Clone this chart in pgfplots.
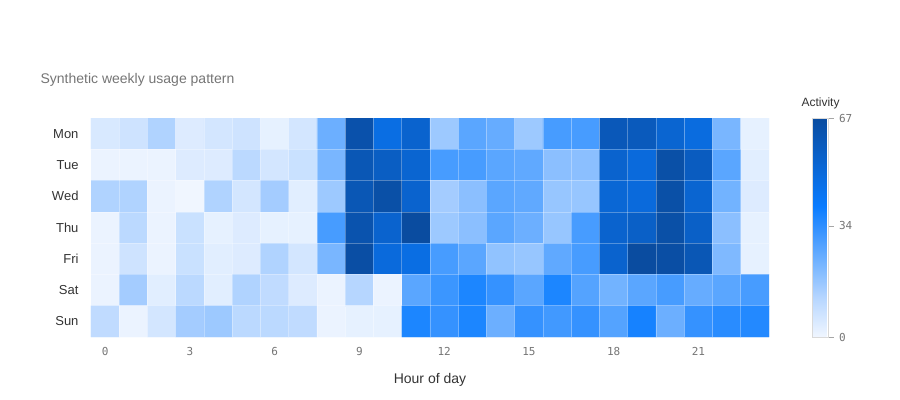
\documentclass[border=0pt]{standalone}
\usepackage{fontspec}
\setmainfont{Liberation Sans}
\newfontfamily\monofont{DejaVu Sans Mono}
\usepackage{pgfplots}
\pgfplotsset{compat=1.18}
\definecolor{txt}{HTML}{333333}
\definecolor{muted}{HTML}{757575}

\begin{document}
\begin{tikzpicture}
\begin{axis}[
  at={(0,0)}, anchor=south west,
  scale only axis, width=678bp, height=219bp,
  xmin=-0.5, xmax=23.5, ymin=-0.5, ymax=6.5,
  y dir=reverse,
  axis line style={draw=none},
  major tick length=0pt, minor tick length=0pt,
  /pgf/number format/assume math mode=true,
  xtick={0,3,...,21},
  xticklabel style={font=\monofont\fontsize{11bp}{13bp}\selectfont, text=muted, yshift=-7bp},
  ytick={0,...,6},
  yticklabels={Mon,Tue,Wed,Thu,Fri,Sat,Sun},
  yticklabel style={font=\fontsize{13bp}{15bp}\selectfont, text=txt, xshift=-9bp},
  minor xtick={0.5,1.5,...,22.5},
  minor ytick={0.5,1.5,...,5.5},
  xminorgrids, yminorgrids,
  minor grid style={draw=white, opacity=0.3, line width=0.6bp},
  axis on top,
  xlabel={Hour of day},
  xlabel style={at={(axis description cs:0.5,-0.196)}, anchor=center,
    font=\fontsize{14bp}{16bp}\selectfont, text=txt},
  title={Synthetic weekly usage pattern},
  title style={at={(axis description cs:-0.0796,1.148)}, anchor=west,
    font=\fontsize{14bp}{16bp}\selectfont, text=muted},
  colormap={activity}{rgb255(0cm)=(240,246,255); rgb255(12cm)=(182,214,255); rgb255(40cm)=(10,124,255); rgb255(67cm)=(10,76,160)},
  point meta min=0, point meta max=67,
  colorbar,
  colorbar style={
    at={(parent axis.north east)}, anchor=north west, xshift=35bp,
    scale only axis, width=16bp, height=219bp,
    axis line style={draw=black!15},
    ytick={0,34,67},
    ytick pos=right, yticklabel pos=right,
    /pgf/number format/assume math mode=true,
    major tick length=5bp, tick align=outside,
    tick style={draw=black!35, line width=0.6bp},
    yticklabel style={font=\monofont\fontsize{11bp}{13bp}\selectfont, text=muted, xshift=2bp},
    title={Activity},
    title style={at={(0.5,1)}, anchor=center, yshift=9bp,
      font=\fontsize{12bp}{14bp}\selectfont, text=txt},
  },
]
\addplot[matrix plot, mesh/cols=24, point meta=explicit] table[meta=c] {
x y c
0 0 5
1 0 7
2 0 13
3 0 4
4 0 6
5 0 7
6 0 2
7 0 6
8 0 24
9 0 64
10 0 48
11 0 54
12 0 16
13 0 27
14 0 25
15 0 16
16 0 30
17 0 30
18 0 60
19 0 59
20 0 53
21 0 49
22 0 22
23 0 2
0 1 1
1 1 1
2 1 1
3 1 4
4 1 4
5 1 11
6 1 6
7 1 8
8 1 22
9 1 61
10 1 57
11 1 53
12 1 30
13 1 30
14 1 27
15 1 26
16 1 19
17 1 19
18 1 54
19 1 50
20 1 65
21 1 58
22 1 27
23 1 3
0 2 13
1 2 13
2 2 1
3 2 0
4 2 13
5 2 6
6 2 15
7 2 3
8 2 16
9 2 61
10 2 65
11 2 54
12 2 15
13 2 19
14 2 27
15 2 26
16 2 17
17 2 17
18 2 52
19 2 50
20 2 65
21 2 53
22 2 23
23 2 4
0 3 1
1 3 11
2 3 1
3 3 8
4 3 2
5 3 4
6 3 2
7 3 2
8 3 30
9 3 63
10 3 54
11 3 67
12 3 16
13 3 19
14 3 27
15 3 24
16 3 17
17 3 30
18 3 54
19 3 56
20 3 65
21 3 56
22 3 19
23 3 2
0 4 1
1 4 7
2 4 1
3 4 8
4 4 3
5 4 4
6 4 13
7 4 6
8 4 22
9 4 66
10 4 50
11 4 48
12 4 30
13 4 27
14 4 18
15 4 17
16 4 26
17 4 30
18 4 54
19 4 67
20 4 66
21 4 61
22 4 21
23 4 2
0 5 1
1 5 15
2 5 3
3 5 11
4 5 3
5 5 13
6 5 10
7 5 4
8 5 1
9 5 12
10 5 1
11 5 27
12 5 32
13 5 37
14 5 33
15 5 27
16 5 37
17 5 28
18 5 23
19 5 27
20 5 30
21 5 25
22 5 27
23 5 30
0 6 10
1 6 1
2 6 6
3 6 15
4 6 16
5 6 11
6 6 11
7 6 10
8 6 1
9 6 2
10 6 2
11 6 37
12 6 33
13 6 37
14 6 24
15 6 33
16 6 31
17 6 33
18 6 28
19 6 38
20 6 24
21 6 33
22 6 35
23 6 36
};
\end{axis}
\path[use as bounding box] (-91bp,-63bp) rectangle (809bp,337bp);
\end{tikzpicture}
\end{document}
